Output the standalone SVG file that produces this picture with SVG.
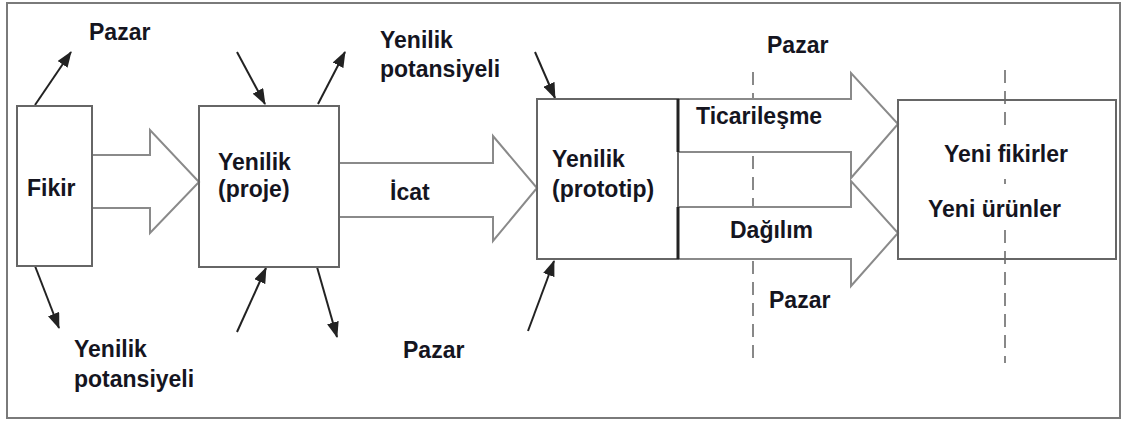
<svg xmlns="http://www.w3.org/2000/svg" width="1125" height="421" viewBox="0 0 1125 421">
<defs>
<style>
.t{font-family:"Liberation Sans",Arial,sans-serif;font-weight:bold;font-size:23px;fill:#15151f}
.box{fill:none;stroke:#666;stroke-width:2}
.big{fill:#fff;stroke:#8a8a8a;stroke-width:2;stroke-linejoin:miter}
.sm{stroke:#222;stroke-width:2;fill:none;marker-end:url(#ah)}
.dash{stroke:#888;stroke-width:2;stroke-dasharray:13 8;fill:none}
</style>
<marker id="ah" markerUnits="userSpaceOnUse" markerWidth="16" markerHeight="12" refX="15" refY="6" orient="auto">
<path d="M0,0 L16,6 L0,12 Z" fill="#222"/>
</marker>
</defs>
<rect width="1125" height="421" fill="#fff"/>
<rect x="7" y="3" width="1113" height="415" fill="none" stroke="#7a7a7a" stroke-width="2"/>

<g id="dashes">
<path class="dash" d="M753,72 V365"/>
<path class="dash" d="M1005,70 V126 M1005,179 V184 M1005,230 V363"/>
</g>

<g id="connectors">
<polygon class="big" points="92,155 150,155 150,130 199,182 150,233 150,208 92,208"/>
<polygon class="big" points="339,163 493,163 493,136 537,188 493,241 493,217 339,217"/>
<polygon class="big" points="678,99 851,99 851,73 898,124 851,178 851,152 678,152"/>
<polygon class="big" points="678,207 851,207 851,181 898,233 851,286 851,259 678,259"/>
<line class="sm" x1="35" y1="105" x2="71" y2="52"/>
<line class="sm" x1="35" y1="266" x2="59" y2="328"/>
<line class="sm" x1="237" y1="52" x2="265" y2="104"/>
<line class="sm" x1="318" y1="104" x2="345" y2="52"/>
<line class="sm" x1="237" y1="332" x2="266" y2="268"/>
<line class="sm" x1="317" y1="267" x2="337" y2="337"/>
<line class="sm" x1="535" y1="52" x2="555" y2="98"/>
<line class="sm" x1="528" y1="331" x2="554" y2="261"/>
<text class="t" x="390" y="200">İcat</text>
<text class="t" x="696" y="124">Ticarileşme</text>
<text class="t" x="730" y="238">Dağılım</text>
</g>

<g id="fikir">
<rect class="box" x="17" y="106" width="75" height="160"/>
<text class="t" x="27" y="196">Fikir</text>
</g>

<g id="proje">
<rect class="box" x="199" y="106" width="140" height="161"/>
<text class="t" x="218" y="170">Yenilik</text>
<text class="t" x="218" y="197">(proje)</text>
</g>

<g id="prototip">
<rect class="box" x="537" y="99" width="141" height="160"/>
<path d="M678,99 V152 M678,207 V259" stroke="#222" stroke-width="3"/>
<text class="t" x="552" y="167">Yenilik</text>
<text class="t" x="552" y="197">(prototip)</text>
</g>

<g id="sonuc">
<rect class="box" x="898" y="100" width="218" height="159"/>
<text class="t" x="944" y="162">Yeni fikirler</text>
<text class="t" x="928" y="217">Yeni ürünler</text>
</g>

<g id="labels">
<text class="t" x="89" y="40">Pazar</text>
<text class="t" x="74" y="357">Yenilik</text>
<text class="t" x="74" y="387">potansiyeli</text>
<text class="t" x="380" y="48">Yenilik</text>
<text class="t" x="380" y="77">potansiyeli</text>
<text class="t" x="403" y="358">Pazar</text>
<text class="t" x="767" y="53">Pazar</text>
<text class="t" x="769" y="308">Pazar</text>
</g>
</svg>
